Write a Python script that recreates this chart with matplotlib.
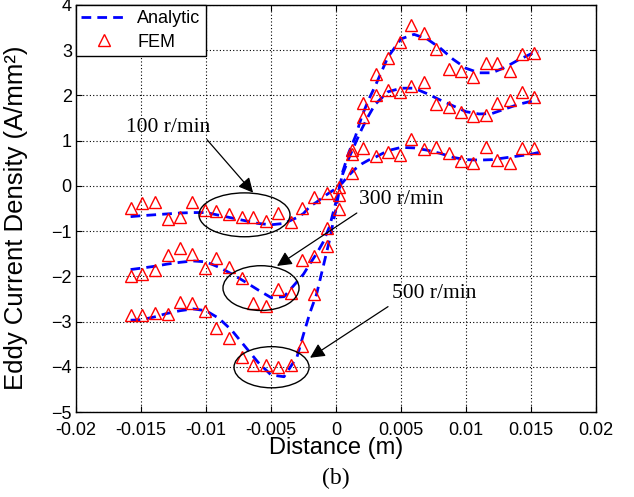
import numpy as np
import matplotlib
matplotlib.use('Agg')
import matplotlib.pyplot as plt
from matplotlib.patches import Ellipse

plt.rcParams['font.family'] = ['Liberation Sans', 'DejaVu Sans']

# Analytic curves
x_ana = [-0.0158, -0.015, -0.014, -0.013, -0.012, -0.011, -0.010, -0.009, -0.008, -0.007,
         -0.006, -0.005, -0.004, -0.003, -0.0025, -0.002, -0.0015, -0.001, -0.0005, 0.0,
         0.0005, 0.001, 0.0015, 0.002, 0.0025, 0.003, 0.004, 0.005, 0.006, 0.007,
         0.008, 0.009, 0.010, 0.011, 0.012, 0.013, 0.014, 0.015, 0.0156]
ana_100 = [-0.68, -0.66, -0.64, -0.62, -0.60, -0.59, -0.59, -0.65, -0.71, -0.77,
           -0.83, -0.86, -0.83, -0.70, -0.61, -0.45, -0.36, -0.25, -0.15, -0.06,
           0.07, 0.24, 0.38, 0.49, 0.57, 0.63, 0.78, 0.85, 0.84, 0.79,
           0.72, 0.63, 0.58, 0.57, 0.58, 0.62, 0.66, 0.70, 0.74]
ana_300 = [-1.85, -1.82, -1.78, -1.73, -1.69, -1.66, -1.68, -1.80, -1.95, -2.12,
           -2.30, -2.47, -2.45, -2.12, -1.95, -1.72, -1.50, -1.25, -0.90, -0.35,
           0.25, 0.62, 0.95, 1.27, 1.55, 1.80, 2.08, 2.16, 2.16, 2.04,
           1.90, 1.77, 1.64, 1.59, 1.60, 1.70, 1.80, 1.87, 1.90]
ana_500 = [-2.97, -2.96, -2.90, -2.82, -2.76, -2.72, -2.76, -2.93, -3.20, -3.55,
           -3.90, -4.18, -4.22, -3.78, -3.28, -2.80, -2.40, -1.80, -1.20, -0.50,
           0.30, 0.75, 1.10, 1.55, 1.90, 2.20, 2.85, 3.25, 3.35, 3.25,
           3.05, 2.80, 2.60, 2.50, 2.50, 2.62, 2.78, 2.92, 2.96]

# FEM results
x_fem = [-0.0158, -0.0149, -0.0139, -0.0129, -0.0120, -0.0111, -0.0101, -0.0092, -0.0082, -0.0072,
         -0.0064, -0.0054, -0.0045, -0.0035, -0.0026, -0.0017, -0.0007, 0.0002, 0.0012, 0.0021,
         0.0031, 0.0040, 0.0049, 0.0058, 0.0068, 0.0077, 0.0087, 0.0096, 0.0105, 0.0115,
         0.0124, 0.0134, 0.0143, 0.0152]
fem_100 = [-0.49, -0.37, -0.35, -0.74, -0.69, -0.35, -0.54, -0.56, -0.63, -0.68,
           -0.68, -0.77, -0.61, -0.79, -0.49, -0.25, -0.15, -0.03, 0.29, 0.83,
           0.65, 0.74, 0.68, 1.03, 0.81, 0.87, 0.72, 0.56, 0.50, 0.85,
           0.57, 0.50, 0.83, 0.83]
fem_300 = [-2.00, -1.94, -1.87, -1.52, -1.38, -1.50, -1.82, -1.60, -1.80, -2.04,
           -2.58, -2.66, -2.27, -2.37, -1.63, -1.56, -0.93, -0.20, 0.70, 1.53,
           2.00, 2.13, 2.08, 2.20, 2.30, 1.81, 1.75, 1.63, 1.55, 1.57,
           1.84, 1.90, 2.08, 1.97]
fem_500 = [-2.85, -2.86, -2.82, -2.84, -2.57, -2.58, -2.76, -3.14, -3.37, -3.78,
           -3.95, -3.95, -4.00, -3.95, -3.53, -2.40, -1.34, -0.51, 0.79, 1.84,
           2.47, 2.82, 3.19, 3.55, 3.37, 3.02, 2.58, 2.55, 2.41, 2.72,
           2.72, 2.55, 2.92, 2.93]

xticks = [-0.02, -0.015, -0.01, -0.005, 0, 0.005, 0.01, 0.015, 0.02]
xtick_labels = ['-0.02', '-0.015', '-0.01', '-0.005', '0', '0.005', '0.01', '0.015', '0.02']
yticks = [-5, -4, -3, -2, -1, 0, 1, 2, 3, 4]

fig = plt.figure(figsize=(6.34, 4.97), dpi=100)
ax = fig.add_axes([0.1199, 0.171, 0.8202, 0.819])

dash = dict(color='#0000ff', lw=2.0, dashes=(3.5, 2.2))
tri = dict(ls='none', marker='^', ms=8.5, mfc='none', mec='red', mew=1.0)

l1, = ax.plot(x_ana, ana_100, **dash)
ax.plot(x_ana, ana_300, **dash)
ax.plot(x_ana, ana_500, **dash)
l2, = ax.plot(x_fem, fem_100, **tri)
ax.plot(x_fem, fem_300, **tri)
ax.plot(x_fem, fem_500, **tri)

ax.set_xlim(-0.02, 0.02)
ax.set_ylim(-5, 4)
ax.set_xticks(xticks)
ax.set_xticklabels(xtick_labels)
ax.set_yticks(yticks)
ax.grid(True, color='k', ls=(0, (1, 2)), lw=0.8)
ax.tick_params(direction='in', top=True, right=True, labelsize=13, length=4)
ax.tick_params(axis='x', pad=7)
ax.tick_params(axis='y', pad=3)
for s in ax.spines.values():
    s.set_linewidth(1.0)

ax.set_xlabel('Distance (m)', fontsize=17, labelpad=-1)
ax.set_ylabel('Eddy Current Density (A/mm²)', fontsize=18.5)
ax.yaxis.set_label_coords(-0.092, 0.477)

leg = ax.legend([l1, l2], ['Analytic', 'FEM'], loc='upper left', fontsize=13,
                fancybox=False, edgecolor='k', framealpha=1, borderaxespad=0,
                handlelength=2.5, borderpad=0.3, labelspacing=0.35, handletextpad=0.6)
leg.get_frame().set_linewidth(1.0)

# ellipses + arrows
for cx, cy, w, h in [(-0.00704, -0.64, 0.0070, 0.97),
                     (-0.00577, -2.26, 0.00585, 0.99),
                     (-0.00496, -4.01, 0.00577, 0.91)]:
    ax.add_patch(Ellipse((cx, cy), w, h, fill=False, ec='k', lw=1.0, zorder=5))

serif = ['Liberation Serif', 'DejaVu Serif']
ap = dict(arrowstyle='-|>', color='k', lw=0.9, mutation_scale=22, shrinkA=0, shrinkB=0)
ax.text(-0.01615, 1.30, '100 r/min', family=serif, fontsize=15.5, va='center', ha='left')
ax.annotate('', xy=(-0.00638, -0.15), xytext=(-0.00992, 1.02), arrowprops=ap)
ax.text(0.00177, -0.31, '300 r/min', family=serif, fontsize=15.5, va='center', ha='left')
ax.annotate('', xy=(-0.00454, -1.77), xytext=(0.0016, -0.60), arrowprops=ap)
ax.text(0.0043, -2.38, '500 r/min', family=serif, fontsize=15.5, va='center', ha='left')
ax.annotate('', xy=(-0.0020, -3.80), xytext=(0.0040, -2.67), arrowprops=ap)

fig.text(0.53, 0.038, '(b)', family=serif, fontsize=17, ha='center', va='center')

fig.savefig('out.png', dpi=100)
